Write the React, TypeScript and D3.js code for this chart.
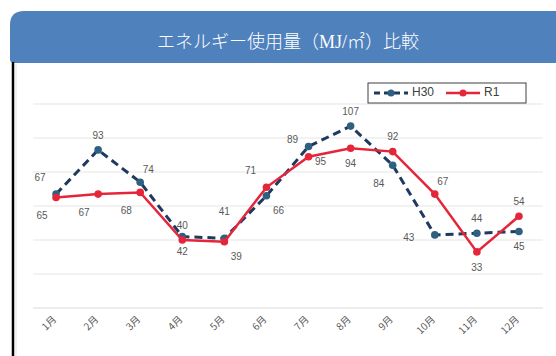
import React, { useEffect, useRef } from 'react';
import * as d3 from 'd3';

const months = ['1月', '2月', '3月', '4月', '5月', '6月', '7月', '8月', '9月', '10月', '11月', '12月'];
const h30 = [67, 93, 74, 42, 41, 66, 95, 107, 84, 43, 44, 45];
const r1 = [65, 67, 68, 40, 39, 71, 89, 94, 92, 67, 33, 54];
// where each data label sits relative to its point
const h30LabelPos = ['tl', 't', 'tr', 'b', 'tt', 'br', 'br', 't', 'bl', 'l', 't', 'b'];
const r1LabelPos = ['bl', 'bl', 'bl', 't', 'br', 'tl', 'tl', 'b', 't', 'tr', 'b', 't'];
const yTicks = [0, 20, 40, 60, 80, 100, 120];

const offsets = {
  t: [0, -14],
  tt: [0, -26],
  b: [0, 16],
  tl: [-16, -16],
  tr: [8, -12],
  bl: [-14, 19],
  br: [12, 16],
  l: [-26, 3],
};

function App() {
  const svgRef = useRef();

  useEffect(() => {
    const width = 556;
    const height = 356;

    const svg = d3.select(svgRef.current);
    svg.selectAll('*').remove();
    svg.attr('width', width).attr('height', height);

    // header band
    const hx = 10, hy = 11, hr = 14;
    svg.append('path')
      .attr('d', `M${hx},${hy + hr} Q${hx},${hy} ${hx + hr},${hy} L${width + 10},${hy} L${width + 10},63 L${hx + 4},63 Q${hx},63 ${hx},59 Z`)
      .attr('fill', '#4f81bd');

    svg.append('text')
      .attr('x', 288)
      .attr('y', 44)
      .attr('text-anchor', 'middle')
      .attr('dominant-baseline', 'middle')
      .attr('fill', '#ffffff')
      .style('font-family', '"Liberation Serif", "Noto Sans CJK JP", serif')
      .style('font-size', '18px')
      .style('font-weight', 300)
      .text('エネルギー使用量（MJ/㎡）比較');

    // card left edge
    svg.append('line')
      .attr('x1', 13).attr('x2', 13)
      .attr('y1', 62).attr('y2', height)
      .attr('stroke', '#000').attr('stroke-width', 2.5);
    svg.append('line')
      .attr('x1', 16).attr('x2', 16)
      .attr('y1', 64).attr('y2', height)
      .attr('stroke', '#e4e4e4').attr('stroke-width', 1);

    const x = d3.scaleBand().domain(months).range([35, 540]);
    const y = d3.scaleLinear().domain([0, 120]).range([308, 104]);
    const cx = (m) => x(m) + x.bandwidth() / 2;

    // gridlines
    svg.append('g')
      .selectAll('line')
      .data(yTicks)
      .enter().append('line')
      .attr('x1', 33).attr('x2', 543)
      .attr('y1', (d) => y(d)).attr('y2', (d) => y(d))
      .attr('stroke', (d) => (d === 0 ? '#d9d9d9' : '#e6e6e6'))
      .attr('stroke-width', 1.2);

    // month labels
    svg.append('g')
      .selectAll('text')
      .data(months)
      .enter().append('text')
      .attr('transform', (d) => `translate(${cx(d) - 1},${318}) rotate(-45)`)
      .attr('text-anchor', 'end')
      .attr('dominant-baseline', 'middle')
      .attr('fill', '#595959')
      .style('font-family', '"Noto Sans CJK JP", sans-serif')
      .style('font-size', '10px')
      .text((d) => d);

    const series = [
      { name: 'H30', values: h30, pos: h30LabelPos, color: '#1f3a5f', marker: '#2e6080', dash: '8,5', w: 3 },
      { name: 'R1', values: r1, pos: r1LabelPos, color: '#e5263a', marker: '#e5263a', dash: null, w: 2.5 },
    ];

    const line = d3.line()
      .x((d, i) => cx(months[i]))
      .y((d) => y(d));

    series.forEach((s) => {
      const g = svg.append('g');
      g.append('path')
        .attr('d', line(s.values))
        .attr('fill', 'none')
        .attr('stroke', s.color)
        .attr('stroke-width', s.w)
        .attr('stroke-dasharray', s.dash);
      g.selectAll('circle')
        .data(s.values)
        .enter().append('circle')
        .attr('cx', (d, i) => cx(months[i]))
        .attr('cy', (d) => y(d))
        .attr('r', 3.8)
        .attr('fill', s.marker);
    });

    series.forEach((s) => {
      svg.append('g')
        .selectAll('text')
        .data(s.values)
        .enter().append('text')
        .attr('x', (d, i) => cx(months[i]) + offsets[s.pos[i]][0])
        .attr('y', (d, i) => y(d) + offsets[s.pos[i]][1])
        .attr('text-anchor', 'middle')
        .attr('dominant-baseline', 'middle')
        .attr('fill', '#595959')
        .style('font-family', '"Liberation Sans", Arial, sans-serif')
        .style('font-size', '10px')
        .text((d) => d);
    });

    // legend
    const legend = svg.append('g').attr('transform', 'translate(368,83)');
    legend.append('rect')
      .attr('width', 158).attr('height', 20)
      .attr('fill', '#fff')
      .attr('stroke', '#404040').attr('stroke-width', 1);
    series.forEach((s, i) => {
      const lx = i === 0 ? 6 : 78;
      const lg = legend.append('g').attr('transform', `translate(${lx},10)`);
      lg.append('line')
        .attr('x1', 0).attr('x2', 34)
        .attr('stroke', s.color)
        .attr('stroke-width', s.w)
        .attr('stroke-dasharray', s.dash ? '6,4' : null);
      lg.append('circle').attr('cx', 17).attr('r', 3.5).attr('fill', s.marker);
      lg.append('text')
        .attr('x', 38)
        .attr('dominant-baseline', 'middle')
        .attr('fill', '#404040')
        .style('font-family', '"Liberation Sans", Arial, sans-serif')
        .style('font-size', '12px')
        .text(s.name);
    });
  }, []);

  return (
    <svg ref={svgRef} style={{ position: 'absolute', left: 0, top: 0 }}></svg>
  );
}

export default App;
